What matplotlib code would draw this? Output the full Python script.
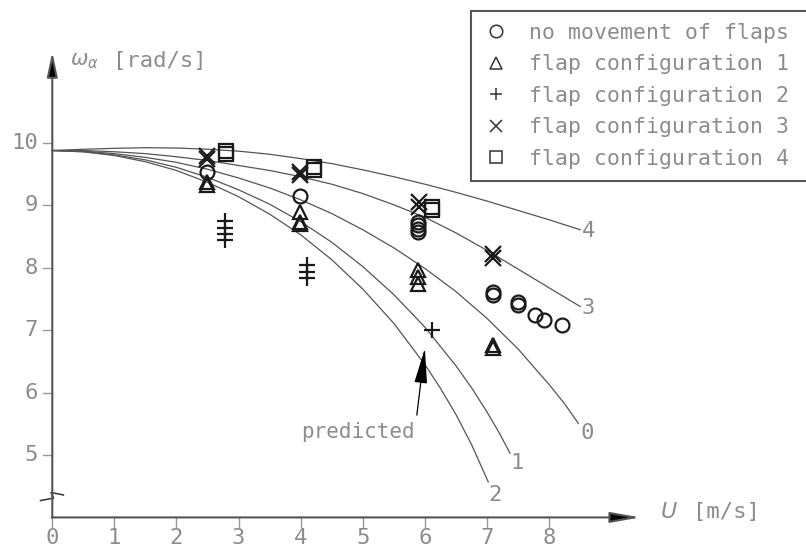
import matplotlib
matplotlib.use("Agg")
import matplotlib.pyplot as plt
from matplotlib.lines import Line2D

# theory curves (label -> U, omega)
u0 = [0, 0.5, 1, 1.5, 2, 2.5, 3, 3.5, 4, 4.5, 5, 5.5, 6, 6.5, 7, 7.5, 8, 8.25, 8.47]
w0 = [9.88, 9.87, 9.83, 9.77, 9.69, 9.58, 9.44, 9.28, 9.09, 8.87, 8.61, 8.32,
      7.99, 7.62, 7.19, 6.70, 6.13, 5.82, 5.51]
u1 = [0, 0.5, 1, 1.5, 2, 2.5, 3, 3.5, 4, 4.5, 5, 5.5, 6, 6.5, 6.75, 7, 7.2, 7.37]
w1 = [9.88, 9.86, 9.81, 9.73, 9.61, 9.45, 9.25, 9.02, 8.74, 8.41, 8.02, 7.57,
      7.05, 6.43, 6.08, 5.69, 5.35, 5.03]
u2 = [0, 0.5, 1, 1.5, 2, 2.5, 3, 3.5, 4, 4.5, 5, 5.5, 6, 6.25, 6.5, 6.75, 7.02]
w2 = [9.88, 9.86, 9.80, 9.70, 9.56, 9.37, 9.14, 8.86, 8.53, 8.13, 7.66, 7.11,
      6.45, 6.07, 5.65, 5.17, 4.57]
u3 = [0, 0.5, 1, 1.5, 2, 2.5, 3, 3.5, 4, 4.5, 5, 5.5, 6, 6.5, 7, 7.5, 8, 8.5]
w3 = [9.88, 9.88, 9.86, 9.83, 9.78, 9.72, 9.64, 9.56, 9.46, 9.34, 9.19, 9.01,
      8.81, 8.56, 8.28, 7.98, 7.68, 7.38]
u4 = [0, 0.5, 1, 1.5, 2, 2.5, 3, 3.5, 4, 4.5, 5, 5.5, 6, 6.5, 7, 7.5, 8, 8.5]
w4 = [9.88, 9.90, 9.915, 9.925, 9.92, 9.90, 9.87, 9.82, 9.75, 9.67, 9.57, 9.46,
      9.34, 9.21, 9.07, 8.92, 8.77, 8.61]
curve_names = ["0", "1", "2", "3", "4"]
label_pos = [(8.61, 5.35), (7.48, 4.87), (7.13, 4.36), (8.63, 7.36), (8.63, 8.59)]

# measurements
circ_u = [2.49, 3.99, 5.89, 5.89, 5.89, 5.89, 7.10, 7.10, 7.50, 7.50, 7.77, 7.91, 8.21]
circ_w = [9.54, 9.15, 8.74, 8.68, 8.62, 8.57, 7.62, 7.57, 7.46, 7.41, 7.24, 7.16, 7.08]
tri_u = [2.49, 2.49, 3.99, 3.99, 3.99, 5.89, 5.89, 5.89, 7.10, 7.10]
tri_w = [9.37, 9.33, 8.90, 8.74, 8.71, 7.97, 7.86, 7.74, 6.77, 6.72]
plus_u = [2.78, 2.78, 2.78, 2.78, 4.10, 4.10, 4.10, 6.11]
plus_w = [8.75, 8.64, 8.54, 8.45, 8.05, 7.94, 7.84, 7.00]
x_u = [2.49, 2.49, 3.99, 3.99, 5.90, 5.90, 7.10, 7.10]
x_w = [9.80, 9.74, 9.53, 9.49, 9.05, 8.98, 8.22, 8.15]
sq_u = [2.79, 2.79, 4.21, 4.21, 6.11, 6.11]
sq_w = [9.88, 9.82, 9.62, 9.57, 8.98, 8.92]

legend_labels = ["no movement of flaps", "flap configuration 1",
                 "flap configuration 2", "flap configuration 3",
                 "flap configuration 4"]
xticks = [0, 1, 2, 3, 4, 5, 6, 7, 8]
yticks = [5, 6, 7, 8, 9, 10]

txt = "#8c8c8c"
mono = "DejaVu Sans Mono"

fig = plt.figure(figsize=(8.06, 5.49), dpi=100)
ax = fig.add_axes([0, 0, 1, 1])
ax.set_xlim(-0.842, 12.137)
ax.set_ylim(3.494, 12.292)
ax.axis("off")

# curves
for u, w, name, (lx, ly) in zip([u0, u1, u2, u3, u4], [w0, w1, w2, w3, w4],
                                curve_names, label_pos):
    ax.plot(u, w, color="#555555", lw=0.9)
    ax.text(lx, ly, name, family=mono, size=16, color=txt, ha="center", va="center")

# axes with arrows
ax.annotate("", xy=(0, 11.46), xytext=(0, 3.995),
            arrowprops=dict(arrowstyle="-|>,head_length=0.75,head_width=0.16",
                            mutation_scale=20, color="#555555", lw=1.5,
                            shrinkA=0, shrinkB=0, fc="black", ec="#555555"))
ax.annotate("", xy=(9.47, 4.0), xytext=(-0.01, 4.0),
            arrowprops=dict(arrowstyle="-|>,head_length=0.9,head_width=0.16",
                            mutation_scale=20, color="#555555", lw=1.5,
                            shrinkA=0, shrinkB=0, fc="black", ec="#555555"))
# axis break mark
ax.plot([-0.19, 0.02, -0.02, 0.18], [4.27, 4.31, 4.40, 4.36], color="#333333", lw=1.1)

for t in xticks:
    ax.plot([t, t], [4.0, 3.84], color="#999999", lw=1)
    ax.text(t, 3.57, str(t), family=mono, size=16, color=txt, ha="center", va="baseline")
for t in yticks:
    ax.plot([-0.15, 0], [t, t], color="#999999", lw=1)
    ax.text(-0.23, t, str(t), family=mono, size=16, color=txt, ha="right", va="center")

ax.text(0.28, 11.31, r"$\omega_\alpha$", size=15, color=txt, ha="left", va="center")
ax.text(0.98, 11.31, "[rad/s]", family=mono, size=16, color=txt, ha="left", va="center")
ax.text(9.79, 4.09, "U", family="DejaVu Sans", style="italic", size=16, color=txt,
        ha="left", va="center")
ax.text(10.31, 4.09, "[m/s]", family=mono, size=16, color=txt, ha="left", va="center")

# markers
mk = dict(linestyle="none", mfc="none", mec="#1a1a1a", mew=1.6)
ax.plot(circ_u, circ_w, marker="o", ms=10, **mk)
ax.plot(tri_u, tri_w, marker="^", ms=10.5, **mk)
ax.plot(plus_u, plus_w, marker="+", ms=12, **mk)
ax.plot(x_u, x_w, marker="x", ms=11, **mk)
ax.plot(sq_u, sq_w, marker="s", ms=10.5, **mk)

# predicted note
ax.annotate("", xy=(6.0, 6.71), xytext=(5.87, 5.64),
            arrowprops=dict(arrowstyle="-|>,head_length=1.1,head_width=0.2",
                            mutation_scale=20, color="#999999", lw=0.9,
                            shrinkA=0, shrinkB=0, fc="black", ec="black"))
ax.text(4.92, 5.37, "predicted", family=mono, size=15, color=txt, ha="center", va="center")

lk = dict(linestyle="none", mfc="none", mec="#333333", mew=1.1, ms=9)
handles = [Line2D([], [], marker="o", **lk), Line2D([], [], marker="^", **lk),
           Line2D([], [], marker="+", **lk), Line2D([], [], marker="x", **lk),
           Line2D([], [], marker="s", **lk)]
leg = ax.legend(handles, legend_labels, loc="upper left", mode="expand",
                bbox_to_anchor=(471 / 806, 0, 360 / 806, 1 - 11 / 549),
                bbox_transform=fig.transFigure,
                prop=dict(family=mono, size=15.5), labelcolor=txt, frameon=True,
                fancybox=False, edgecolor="#555555", framealpha=1,
                borderpad=0.555, handlelength=1.2, handletextpad=0.93,
                labelspacing=0.534, borderaxespad=0)
leg.get_frame().set_linewidth(1.5)

fig.savefig("out.png", dpi=100)
